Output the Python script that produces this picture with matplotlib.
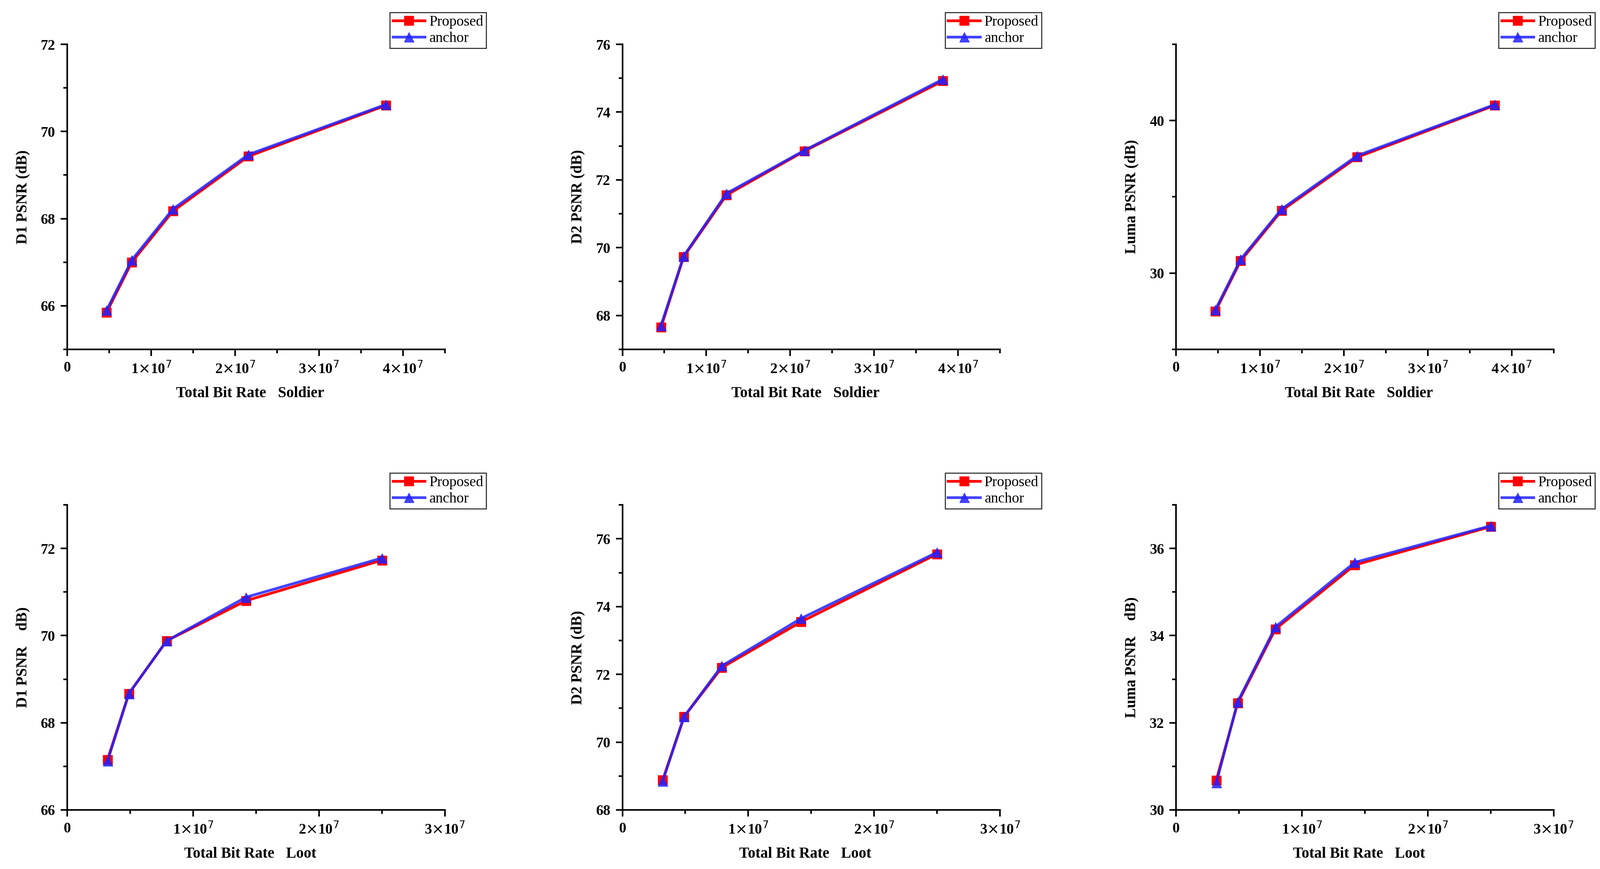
import matplotlib
matplotlib.use("Agg")
import matplotlib.pyplot as plt
from matplotlib.ticker import MultipleLocator

plt.rcParams["font.family"] = "Liberation Serif"

x_soldier_d1 = [4.7e6, 7.7e6, 1.26e7, 2.16e7, 3.8e7]
x_soldier_d2 = [4.6e6, 7.3e6, 1.24e7, 2.17e7, 3.82e7]
x_loot = [3.2e6, 4.9e6, 7.9e6, 1.42e7, 2.5e7]

d1_soldier_prop = [65.85, 67.0, 68.17, 69.43, 70.6]
d1_soldier_anch = [65.9, 67.05, 68.22, 69.47, 70.62]
d2_soldier_prop = [67.65, 69.73, 71.55, 72.85, 74.92]
d2_soldier_anch = [67.7, 69.75, 71.6, 72.87, 74.97]
luma_soldier_prop = [27.5, 30.8, 34.1, 37.6, 41.0]
luma_soldier_anch = [27.6, 30.9, 34.2, 37.7, 41.05]
d1_loot_prop = [67.15, 68.67, 69.88, 70.8, 71.73]
d1_loot_anch = [67.12, 68.67, 69.88, 70.88, 71.78]
d2_loot_prop = [68.88, 70.75, 72.2, 73.55, 75.55]
d2_loot_anch = [68.85, 70.75, 72.25, 73.65, 75.6]
luma_loot_prop = [30.68, 32.45, 34.15, 35.62, 36.5]
luma_loot_anch = [30.62, 32.48, 34.2, 35.68, 36.52]

panels = [
    (x_soldier_d1, d1_soldier_prop, d1_soldier_anch, "D1 PSNR (dB)", "Total Bit Rate（Soldier）", (65, 72), 2, 1, 4.5e7),
    (x_soldier_d2, d2_soldier_prop, d2_soldier_anch, "D2 PSNR (dB)", "Total Bit Rate（Soldier）", (67, 76), 2, 1, 4.5e7),
    (x_soldier_d1, luma_soldier_prop, luma_soldier_anch, "Luma PSNR (dB)", "Total Bit Rate（Soldier）", (25, 45), 10, 5, 4.5e7),
    (x_loot, d1_loot_prop, d1_loot_anch, "D1 PSNR （dB)", "Total Bit Rate（Loot）", (66, 73), 2, 1, 3e7),
    (x_loot, d2_loot_prop, d2_loot_anch, "D2 PSNR (dB)", "Total Bit Rate（Loot）", (68, 77), 2, 1, 3e7),
    (x_loot, luma_loot_prop, luma_loot_anch, "Luma PSNR （dB)", "Total Bit Rate（Loot）", (30, 37), 2, 1, 3e7),
]

fig = plt.figure(figsize=(41.17, 22.36), dpi=100)
lefts = [0.042, 0.389, 0.735]
rows = [(0.598, 0.949), (0.068, 0.419)]

def fmt(v, pos):
    if v == 0:
        return "0"
    return r"%d$\times$10$^{7}$" % round(v / 1e7)

for i, (x, yp, ya, ylab, xlab, ylim, maj, mnr, xmax) in enumerate(panels):
    r, c = divmod(i, 3)
    b, t = rows[r]
    ax = fig.add_axes([lefts[c], b, 0.236, t - b])
    ax.plot(x, yp, color="red", lw=5, marker="s", ms=17, label="Proposed")
    ax.plot(x, ya, color="#2222ff", alpha=0.85, lw=5, marker="^", ms=18, label="anchor")
    ax.set_xlim(0, xmax)
    ax.set_ylim(*ylim)
    ax.yaxis.set_major_locator(MultipleLocator(maj))
    ax.yaxis.set_minor_locator(MultipleLocator(mnr))
    ax.xaxis.set_major_locator(MultipleLocator(1e7))
    ax.xaxis.set_minor_locator(MultipleLocator(5e6))
    ax.xaxis.set_major_formatter(plt.FuncFormatter(fmt))
    for s in ["top", "right"]:
        ax.spines[s].set_visible(False)
    for s in ["left", "bottom"]:
        ax.spines[s].set_linewidth(3)
    ax.tick_params(which="major", length=12, width=3, labelsize=27, pad=10)
    ax.tick_params(which="minor", length=7, width=3)
    for lab in ax.get_xticklabels() + ax.get_yticklabels():
        lab.set_fontweight("bold")
    ax.set_ylabel(ylab, fontsize=28, fontweight="bold", labelpad=20)
    ax.set_xlabel(xlab, fontsize=28, fontweight="bold", labelpad=18,
                  fontfamily=["Liberation Serif", "Noto Sans CJK SC"])
    leg = ax.legend(loc="upper right", bbox_to_anchor=(1.11, 1.105), fontsize=27,
                    fancybox=False, edgecolor="black", handlelength=2.2,
                    borderpad=0.2, labelspacing=0.2, handletextpad=0.3, borderaxespad=0)
    leg.get_frame().set_linewidth(2)

fig.savefig("out.png", dpi=100)
